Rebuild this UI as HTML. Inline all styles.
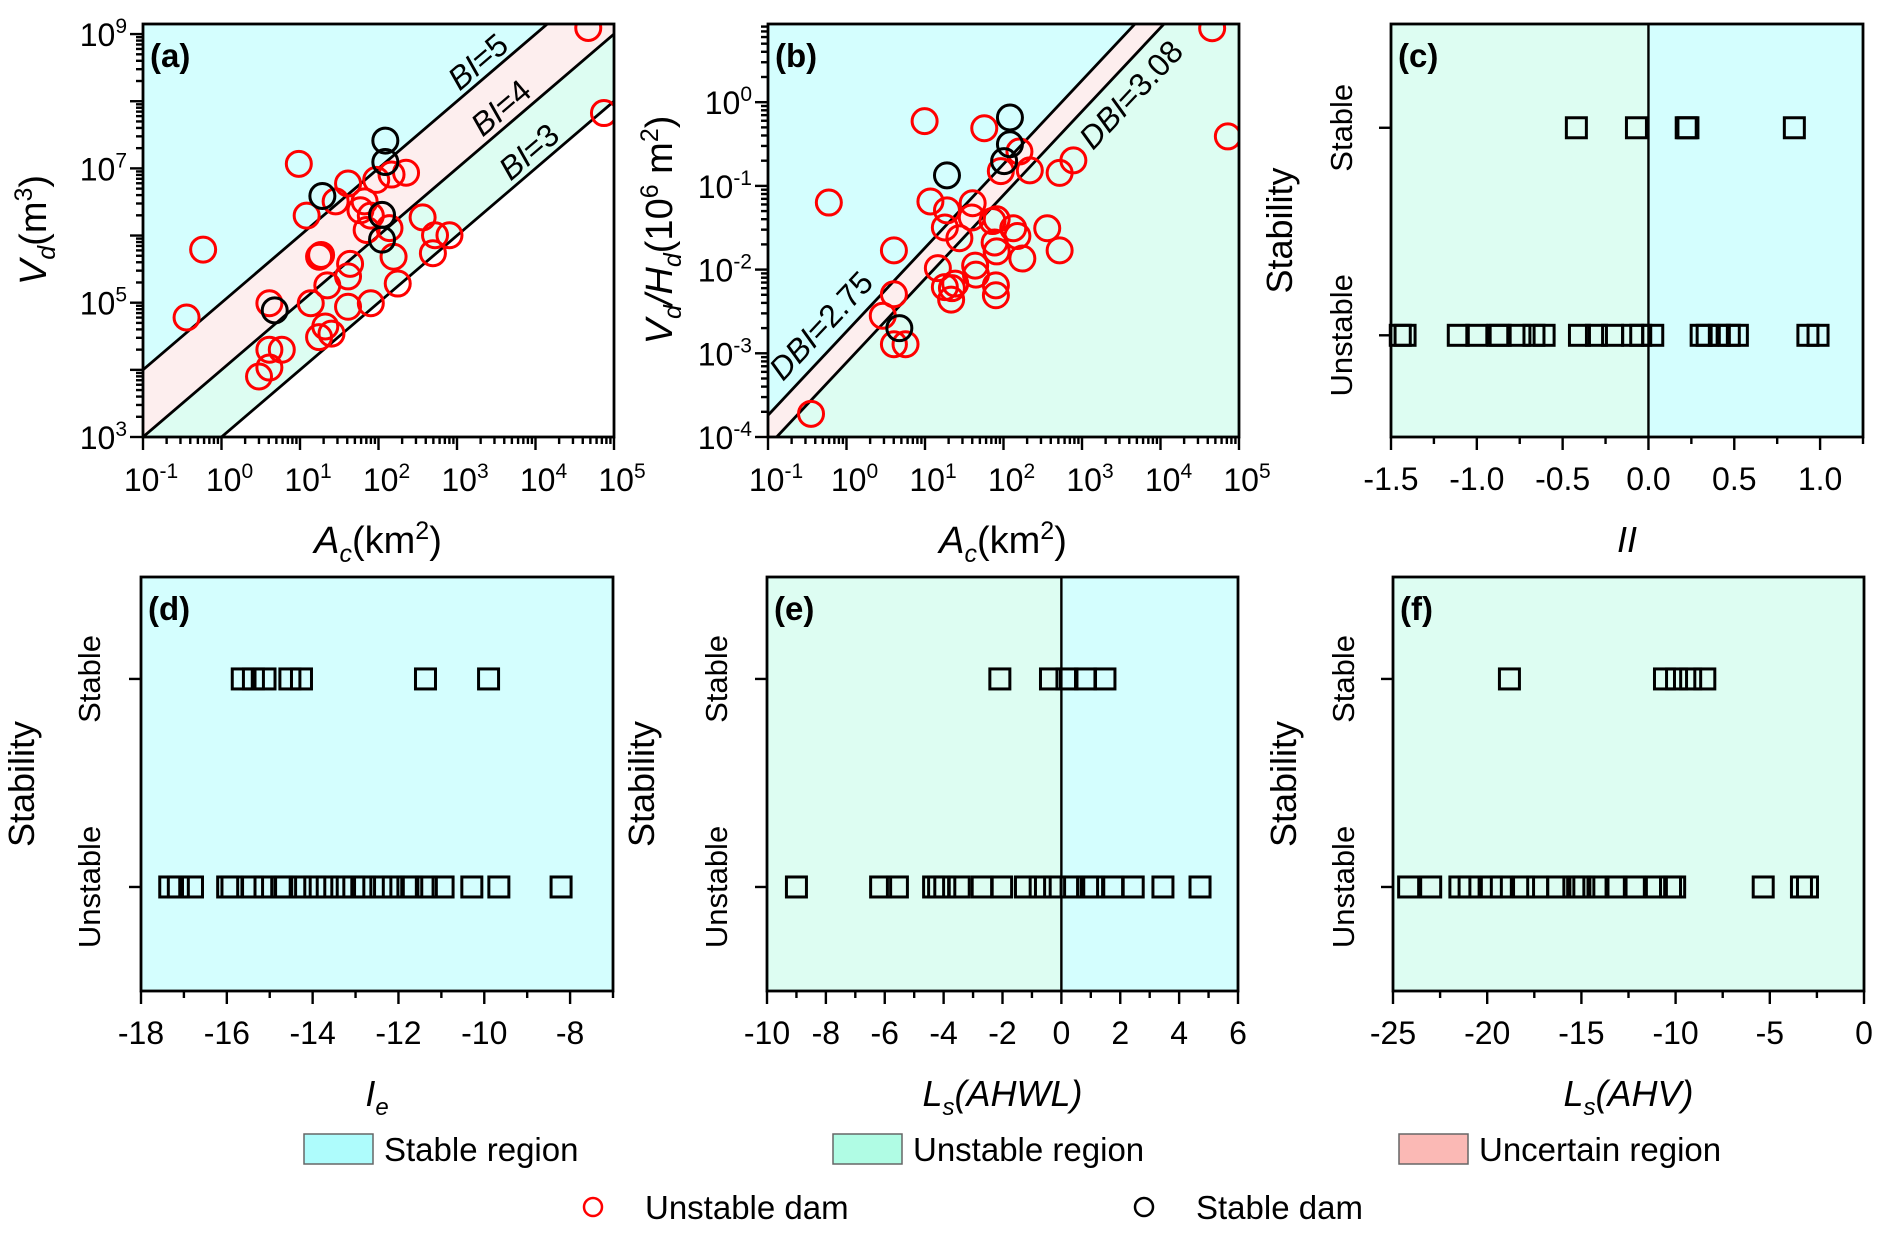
<!DOCTYPE html>
<html><head><meta charset="utf-8"><style>
html,body{margin:0;padding:0;background:#fff;width:1892px;height:1239px;overflow:hidden;}
svg{display:block;font-family:"Liberation Sans",Arial,sans-serif;}
</style></head><body>
<svg id="fig" width="1892" height="1239" viewBox="0 0 1892 1239" xmlns="http://www.w3.org/2000/svg"></svg>
<script>
// ---------- DATA ----------
const aUnstableLogA=[4.672,4.872,0.985,1.612,1.971,2.166,2.351,1.085,1.454,1.823,1.770,1.902,1.849,2.140,2.562,2.720,2.904,1.243,1.269,2.192,1.638,1.612,2.693,1.348,2.245,-0.234,-0.445,0.610,1.137,1.612,1.902,1.322,1.401,1.243,0.610,0.768,0.610,0.478];
const aUnstableLogV=[9.09,7.824,7.068,6.775,6.828,6.908,6.935,6.296,6.509,6.509,6.376,6.296,6.083,6.110,6.270,6.004,6.004,5.684,5.711,5.684,5.578,5.391,5.737,5.258,5.285,5.791,4.779,4.992,4.992,4.939,4.992,4.646,4.540,4.487,4.300,4.300,4.034,3.901];
const aStableLogA=[2.087,2.087,1.285,2.045,2.045,0.678];
const aStableLogV=[7.414,7.095,6.589,6.307,5.940,4.886];
const biValues=[5,4,3];
const bUnstableLogA=[4.658,4.858,0.995,1.755,-0.225,1.069,1.280,1.253,1.438,1.607,1.596,1.860,1.913,2.124,2.177,2.557,2.715,0.604,1.164,1.253,1.333,1.385,1.639,1.649,1.887,1.913,1.903,1.903,2.240,1.966,2.203,2.335,2.715,2.890,0.462,0.604,0.752,-0.452,0.604,1.343];
const bUnstableLogR=[0.883,-0.409,-0.226,-0.311,-1.199,-1.186,-1.292,-1.497,-1.625,-1.207,-1.378,-1.420,-1.399,-1.506,-1.599,-1.506,-1.770,-1.770,-1.983,-2.209,-2.359,-2.167,-1.953,-2.060,-1.676,-1.783,-2.188,-2.307,-1.868,-0.823,-0.589,-0.815,-0.845,-0.695,-2.551,-2.892,-2.892,-3.723,-2.295,-2.222];
const bStableLogA=[2.082,2.082,2.008,1.280,0.673];
const bStableLogR=[-0.183,-0.503,-0.704,-0.874,-2.700];
const dbiOffsets=[-2.74,-3.11];
const dbiLabels=["2.75","3.08"];
const cStable=[-0.42,-0.07,0.22,0.23,0.85];
const cUnstable=[-1.446,-1.418,-1.108,-1.0,-0.878,-0.864,-0.749,-0.667,-0.608,-0.402,-0.303,-0.209,-0.092,-0.045,0.025,0.307,0.342,0.413,0.471,0.518,0.929,0.988];
const dStable=[-15.64,-15.38,-15.11,-14.53,-14.26,-11.37,-9.90];
const dUnstable=[-17.33,-17.13,-16.80,-15.98,-15.88,-15.40,-15.11,-14.72,-14.63,-14.29,-13.95,-13.66,-13.32,-13.04,-12.79,-12.41,-12.12,-11.78,-11.69,-11.35,-10.96,-10.29,-9.66,-8.21];
const eStable=[-2.09,-0.37,0.19,0.82,1.48];
const eUnstable=[-9.0,-6.14,-5.57,-4.34,-4.17,-3.96,-3.47,-2.69,-2.03,-1.22,-0.72,-0.23,0.33,0.89,1.10,1.74,2.44,3.45,4.71];
const fStable=[-18.82,-10.59,-9.95,-9.20,-8.45];
const fUnstable=[-24.17,-23.0,-21.45,-20.96,-19.78,-19.25,-18.07,-17.32,-16.26,-15.40,-15.08,-14.87,-14.12,-13.16,-12.19,-11.02,-10.27,-10.05,-5.35,-3.32,-3.0];
const stabilityCategories=["Unstable","Stable"];
const cTicks=[-1.5,-1.0,-0.5,0.0,0.5,1.0];
const dTicks=[-18,-16,-14,-12,-10,-8];
const eTicks=[-10,-8,-6,-4,-2,0,2,4,6];
const fTicks=[-25,-20,-15,-10,-5,0];

// ---------- HELPERS ----------
const NS="http://www.w3.org/2000/svg";
const svg=document.getElementById('fig');
const CYAN="#d4fefe",MINT="#ddfdf2",PINK="#fdeeee";
function el(tag,attrs,parent){const e=document.createElementNS(NS,tag);for(const k in attrs)e.setAttribute(k,attrs[k]);(parent||svg).appendChild(e);return e;}
function sx(p,v){return p.l+(v-p.x0)/(p.x1-p.x0)*(p.r-p.l);}
function sy(p,v){return p.b-(v-p.y0)/(p.y1-p.y0)*(p.b-p.t);}
function mkGroup(name,parent){const g=el('g',{},parent);return g;}
function clip(p,id){const cp=el('clipPath',{id:id});el('rect',{x:p.l,y:p.t,width:p.r-p.l,height:p.b-p.t},cp);}

const A={l:143,r:614,t:24,b:437,x0:-1,x1:5,y0:3,y1:9.15};
const B={l:768,r:1239,t:24,b:437,x0:-1,x1:5,y0:-4,y1:0.934};
const C={l:1391,r:1863,t:24,b:437,x0:-1.5,x1:1.25,y0:-0.49,y1:1.5};
const D={l:141,r:613,t:577,b:991,x0:-18,x1:-7,y0:-0.5,y1:1.49};
const E={l:767,r:1238,t:577,b:991,x0:-10,x1:6,y0:-0.5,y1:1.49};
const F={l:1393,r:1864,t:577,b:991,x0:-25,x1:0,y0:-0.5,y1:1.49};

function bandPoly(p,g,cLow,cHigh,fill,name){
  const pts=[[p.x0,p.x0+cLow],[p.x1,p.x1+cLow],[p.x1,p.x1+cHigh],[p.x0,p.x0+cHigh]];
  const poly=el('polygon',{points:pts.map(q=>sx(p,q[0])+','+sy(p,q[1])).join(' '),fill:fill},g);
  
  
}
function refLine(p,g,c,name){
  const ln=el('line',{x1:sx(p,p.x0),y1:sy(p,p.x0+c),x2:sx(p,p.x1),y2:sy(p,p.x1+c),stroke:'#000','stroke-width':2.8},g);
  
  
}
function frame(p,g){
  const r=el('rect',{x:p.l,y:p.t,width:p.r-p.l,height:p.b-p.t,fill:'none',stroke:'#000','stroke-width':2.8},g);
  
  
}
function powLabel(g,x,y,exp,anchor,name){
  const t=el('text',{x:x,y:y,'font-size':32,'text-anchor':anchor,fill:'#000'},g);
  
  
  const a=el('tspan',{},t);a.textContent='10';
  const b=el('tspan',{dy:-13,'font-size':21},t);b.textContent=String(exp);
  return t;
}
function logAxes(p,g,xExps,yExps){
  const tg=mkGroup('axis-ticks',g);
  for(let d=Math.floor(p.x0);d<=Math.ceil(p.x1);d++){
    for(let k=1;k<=9;k++){const v=d+Math.log10(k);if(v<p.x0-1e-6||v>p.x1+1e-6)continue;
      const x=sx(p,v);el('line',{x1:x,y1:p.b,x2:x,y2:p.b+(k===1?13:7),stroke:'#000','stroke-width':2.4},tg);}
  }
  for(let d=Math.floor(p.y0);d<=Math.ceil(p.y1);d++){
    for(let k=1;k<=9;k++){const v=d+Math.log10(k);if(v<p.y0-1e-6||v>p.y1+1e-6)continue;
      const y=sy(p,v);el('line',{x1:p.l,y1:y,x2:p.l-(k===1?13:7),y2:y,stroke:'#000','stroke-width':2.4},tg);}
  }
  xExps.forEach(e=>powLabel(g,sx(p,e)+8,491,e,'middle','x-tick-label'));
  yExps.forEach(e=>powLabel(g,p.l-16,sy(p,e)+12,e,'end','y-tick-label'));
}
function circles(p,g,xs,ys,color,name){
  xs.forEach((x,i)=>{
    const c=el('circle',{cx:sx(p,x),cy:sy(p,ys[i]),r:12.5,fill:'none',stroke:color,'stroke-width':3},g);
    
    
  });
}
function squares(p,g,vals,cat,name){
  vals.forEach(v=>{
    const x=sx(p,v),y=sy(p,cat);
    const s=el('rect',{x:x-10,y:y-10,width:20,height:20,fill:'none',stroke:'#000','stroke-width':3},g);
    
    
  });
}
function panelLabel(g,p,txt){
  const t=el('text',{x:p.l+7,y:p.t+43,'font-size':33,'font-weight':'bold'},g);
  
  
  t.textContent=txt;
}
function stabilityPanel(p,name,label,stable,unstable,ticks,minorStep,bg,zeroSplit,titleParts,yLabX,yTitleX){
  const g=mkGroup(name);
  if(zeroSplit){
    const x0=sx(p,0);
    const l=el('rect',{x:p.l,y:p.t,width:x0-p.l,height:p.b-p.t,fill:MINT},g);
    
    
    const r=el('rect',{x:x0,y:p.t,width:p.r-x0,height:p.b-p.t,fill:CYAN},g);
    
    
    const z=el('line',{x1:x0,y1:p.t,x2:x0,y2:p.b,stroke:'#000','stroke-width':2.4},g);
    
    
  }else{
    const r=el('rect',{x:p.l,y:p.t,width:p.r-p.l,height:p.b-p.t,fill:bg},g);
    
    
  }
  squares(p,g,unstable,0,'unstable-dam-marker');
  squares(p,g,stable,1,'stable-dam-marker');
  frame(p,g);
  const tg=mkGroup('axis-ticks',g);
  for(let v=p.x0;v<=p.x1+1e-6;v+=minorStep){
    const major=ticks.some(t=>Math.abs(t-v)<1e-6);
    const x=sx(p,v);el('line',{x1:x,y1:p.b,x2:x,y2:p.b+(major?13:7),stroke:'#000','stroke-width':2.4},tg);
  }
  stabilityCategories.forEach((c,i)=>{const y=sy(p,i);el('line',{x1:p.l,y1:y,x2:p.l-12,y2:y,stroke:'#000','stroke-width':2.4},tg);
    const t=el('text',{x:yLabX,y:y,'font-size':31,'text-anchor':'middle',transform:`rotate(-90 ${yLabX} ${y})`},g);
    
    
    t.textContent=c;});
  ticks.forEach(v=>{
    const t=el('text',{x:sx(p,v),y:p.b+53,'font-size':32,'text-anchor':'middle'},g);
    
    
    t.textContent=(Math.abs(p.x1-p.x0)<5)?v.toFixed(1):String(v);
  });
  const yt=el('text',{x:yTitleX,y:(p.t+p.b)/2,'font-size':36,'text-anchor':'middle',transform:`rotate(-90 ${yTitleX} ${(p.t+p.b)/2})`},g);
  
  
  yt.textContent='Stability';
  const xt=el('text',{x:(p.l+p.r)/2,y:p.b+115,'font-size':36,'text-anchor':'middle','font-style':'italic'},g);
  
  
  titleParts.forEach(tp=>{const s=el('tspan',tp.attrs||{},xt);s.textContent=tp.t;});
  panelLabel(g,p,label);
}

// ---------- PANEL A ----------
(function(){
  const g=mkGroup('panel-a');
  clip(A,'clipA');
  const rg=el('g',{'clip-path':'url(#clipA)'},g);
  el('rect',{x:A.l,y:A.t,width:A.r-A.l,height:A.b-A.t,fill:'#fff'},rg);
  bandPoly(A,rg,biValues[0],30,CYAN,'stable-region');
  bandPoly(A,rg,biValues[1],biValues[0],PINK,'uncertain-region');
  bandPoly(A,rg,biValues[2],biValues[1],MINT,'unstable-region');
  biValues.forEach(c=>refLine(A,rg,c,'bi-line-'+c));
  circles(A,rg,aUnstableLogA,aUnstableLogV,'#f00','unstable-dam-marker');
  circles(A,rg,aStableLogA,aStableLogV,'#000','stable-dam-marker');
  frame(A,g);
  logAxes(A,g,[-1,0,1,2,3,4,5],[3,5,7,9]);
  const pos=[[485,70],[508,116],[536,160]];
  biValues.forEach((c,i)=>{
    const t=el('text',{x:pos[i][0],y:pos[i][1],'font-size':32,'text-anchor':'middle',transform:`rotate(-40.5 ${pos[i][0]} ${pos[i][1]})`},g);
    
    
    const s1=el('tspan',{'font-style':'italic'},t);s1.textContent='BI';
    const s2=el('tspan',{},t);s2.textContent='='+c;
  });
  const yt=el('text',{x:46,y:230,'font-size':38,'text-anchor':'middle',transform:'rotate(-90 46 230)'},g);
  
  
  yt.innerHTML='<tspan font-style="italic">V</tspan><tspan font-style="italic" font-size="25" dy="9">d</tspan><tspan dy="-9">(m</tspan><tspan font-size="25" dy="-14">3</tspan><tspan dy="14">)</tspan>';
  const xt=el('text',{x:378,y:553,'font-size':38,'text-anchor':'middle'},g);
  
  
  xt.innerHTML='<tspan font-style="italic">A</tspan><tspan font-style="italic" font-size="25" dy="9">c</tspan><tspan dy="-9">(km</tspan><tspan font-size="25" dy="-14">2</tspan><tspan dy="14">)</tspan>';
  panelLabel(g,A,'(a)');
})();

// ---------- PANEL B ----------
(function(){
  const g=mkGroup('panel-b');
  clip(B,'clipB');
  const rg=el('g',{'clip-path':'url(#clipB)'},g);
  bandPoly(B,rg,dbiOffsets[0],30,CYAN,'stable-region');
  bandPoly(B,rg,dbiOffsets[1],dbiOffsets[0],PINK,'uncertain-region');
  bandPoly(B,rg,-30,dbiOffsets[1],MINT,'unstable-region');
  dbiOffsets.forEach((c,i)=>refLine(B,rg,c,'dbi-line-'+dbiLabels[i]));
  circles(B,rg,bUnstableLogA,bUnstableLogR,'#f00','unstable-dam-marker');
  circles(B,rg,bStableLogA,bStableLogR,'#000','stable-dam-marker');
  frame(B,g);
  logAxes(B,g,[-1,0,1,2,3,4,5],[-4,-3,-2,-1,0]);
  const pos=[[829,333],[1139,102]];
  dbiLabels.forEach((c,i)=>{
    const t=el('text',{x:pos[i][0],y:pos[i][1],'font-size':32,'text-anchor':'middle',transform:`rotate(-46.8 ${pos[i][0]} ${pos[i][1]})`},g);
    
    
    const s1=el('tspan',{'font-style':'italic'},t);s1.textContent='DBI';
    const s2=el('tspan',{},t);s2.textContent='='+c;
  });
  const yt=el('text',{x:672,y:230,'font-size':38,'text-anchor':'middle',transform:'rotate(-90 672 230)'},g);
  
  
  yt.innerHTML='<tspan font-style="italic">V</tspan><tspan font-style="italic" font-size="25" dy="9">d</tspan><tspan font-style="italic" dy="-9">/H</tspan><tspan font-style="italic" font-size="25" dy="9">d</tspan><tspan dy="-9">(10</tspan><tspan font-size="25" dy="-14">6</tspan><tspan dy="14"> m</tspan><tspan font-size="25" dy="-14">2</tspan><tspan dy="14">)</tspan>';
  const xt=el('text',{x:1003,y:553,'font-size':38,'text-anchor':'middle'},g);
  
  
  xt.innerHTML='<tspan font-style="italic">A</tspan><tspan font-style="italic" font-size="25" dy="9">c</tspan><tspan dy="-9">(km</tspan><tspan font-size="25" dy="-14">2</tspan><tspan dy="14">)</tspan>';
  panelLabel(g,B,'(b)');
})();

// ---------- PANELS C-F ----------
stabilityPanel(C,'panel-c','(c)',cStable,cUnstable,cTicks,0.25,null,true,[{t:'II'}],1352,1292);
stabilityPanel(D,'panel-d','(d)',dStable,dUnstable,dTicks,1,CYAN,false,[{t:'I'},{t:'e',attrs:{'font-size':24,dy:9}}],100,34);
stabilityPanel(E,'panel-e','(e)',eStable,eUnstable,eTicks,1,null,true,[{t:'L'},{t:'s',attrs:{'font-size':24,dy:9}},{t:'(AHWL)',attrs:{dy:-9}}],727,654);
stabilityPanel(F,'panel-f','(f)',fStable,fUnstable,fTicks,2.5,MINT,false,[{t:'L'},{t:'s',attrs:{'font-size':24,dy:9}},{t:'(AHV)',attrs:{dy:-9}}],1354,1296);

// ---------- LEGEND ----------
(function(){
  const g=mkGroup('legend');
  const items=[[304,'#aefcfc','Stable region'],[833,'#b0fce4','Unstable region'],[1399,'#fbb9b5','Uncertain region']];
  items.forEach(it=>{
    const e=mkGroup('legend-entry',g);
    const r=el('rect',{x:it[0],y:1134,width:69,height:30,fill:it[1],stroke:'#666','stroke-width':1.5},e);
    
    
    const t=el('text',{x:it[0]+80,y:1161,'font-size':33},e);
    
    
    t.textContent=it[2];
  });
  const dams=[[593,'#f00','Unstable dam'],[1144,'#000','Stable dam']];
  dams.forEach(d=>{
    const e=mkGroup('legend-entry',g);
    const c=el('circle',{cx:d[0],cy:1207,r:9,fill:'none',stroke:d[1],'stroke-width':2.5},e);
    
    
    const t=el('text',{x:d[0]+52,y:1219,'font-size':33},e);
    
    
    t.textContent=d[2];
  });
})();
</script>
</body></html>
